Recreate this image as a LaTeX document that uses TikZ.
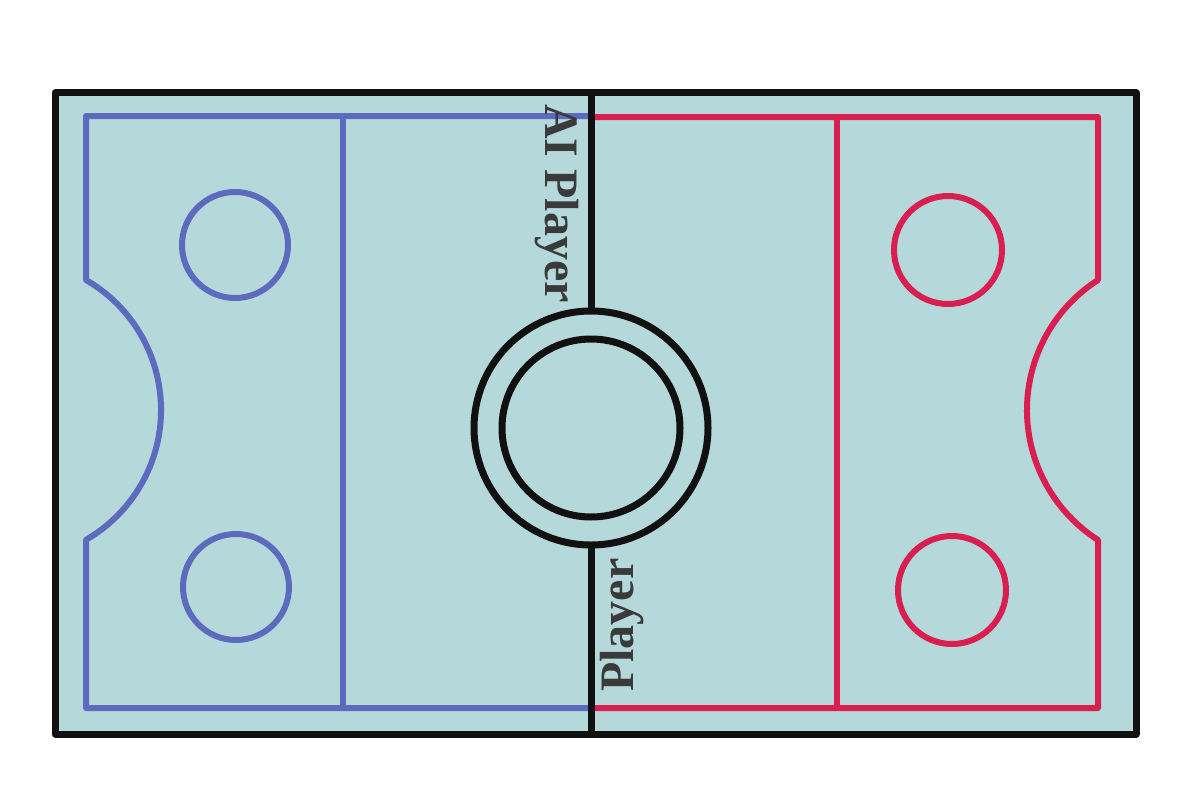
\documentclass[tikz,border=0pt]{standalone}
\usepackage{fontspec}
\setmainfont{Liberation Serif}
\begin{document}
\begin{tikzpicture}[x=1pt,y=-1pt,
  rinkfill/.style={fill=rink},
  blueline/.style={draw=blueteam,line width=6pt,line join=round},
  redline/.style={draw=redteam,line width=6pt,line join=round},
  blackline/.style={draw=inkblack,line width=7pt,line join=round},
  label/.style={text=labelgray,font=\fontsize{48}{50}\selectfont\bfseries,inner sep=0pt}]
\definecolor{rink}{HTML}{B5D8DA}
\definecolor{blueteam}{HTML}{5C6BBE}
\definecolor{redteam}{HTML}{D81F50}
\definecolor{inkblack}{HTML}{111111}
\definecolor{labelgray}{HTML}{3A3A3A}
\useasboundingbox (0,0) rectangle (1200,800);
% rink surface
\fill[rink] (55,93) rectangle (1136,734);
% blue half
\draw[blueline] (591,116) -- (86,116) -- (86,280)
  arc[start angle=60,end angle=-60,radius=150pt] -- (86,708) -- (591,708);
\draw[blueline] (343,116) -- (343,708);
\draw[blueline] (235,245) circle[radius=53pt];
\draw[blueline] (236,587) circle[radius=53pt];
% red half
\draw[redline] (591,117) -- (1098,117) -- (1098,280)
  arc[start angle=122.7,end angle=237.3,radius=154.5pt] -- (1098,708) -- (591,708);
\draw[redline] (837,117) -- (837,708);
\draw[redline] (948,250) circle[radius=54pt];
\draw[redline] (952,590) circle[radius=54pt];
% centre
\coordinate (c) at (591,428);
\draw[blackline] (591,93) -- (591,311);
\draw[blackline] (591,545) -- (591,734);
\draw[blackline,fill=rink] (c) circle[radius=117pt];
\draw[blackline] (c) circle[radius=89pt];
% border
\draw[blackline] (55,93) rectangle (1136,734);
% labels
\node[label,rotate=-90,anchor=base west] (ai) at (545,104) {AI Player};
\node[label,rotate=90,anchor=base west] (pl) at (633,692) {Player};
\end{tikzpicture}
\end{document}
